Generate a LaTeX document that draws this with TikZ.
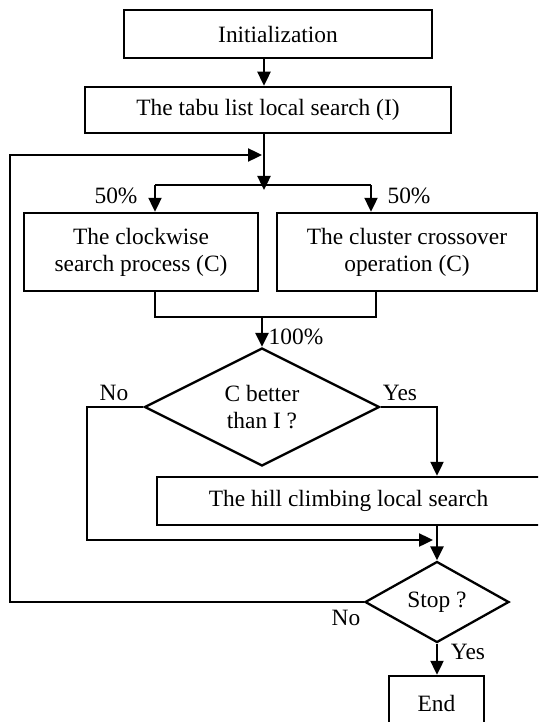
\documentclass[tikz,border=0pt]{standalone}
\usepackage{fontspec}
\setmainfont{Liberation Serif}
\usetikzlibrary{arrows.meta,shapes.geometric,positioning}

\begin{document}
\begin{tikzpicture}[x=1pt,y=-1pt, line join=miter, >={Triangle[length=14pt,width=13pt]},
	font=\fontsize{23.4}{27}\selectfont]
	\tikzset{box/.style={draw,line width=2.5pt,inner sep=0pt,align=center},
		decide/.style={draw,diamond,line width=2.3pt,inner sep=0pt,align=center},
		flow/.style={line width=2.4pt},
		lbl/.style={inner sep=0pt}}
	\useasboundingbox (0,0) rectangle (538,722);
	\clip (0,0) rectangle (538,722);
	% process boxes
	\node[box,minimum width=308pt,minimum height=48pt] (init) at (278,34) {Initialization};
	\node[box,minimum width=366pt,minimum height=46pt] (tabu) at (268,110) {The tabu list local search (I)};
	\node[box,minimum width=234pt,minimum height=78pt] (clock) at (141,252) {The clockwise\\search process (C)};
	\node[box,minimum width=260pt,minimum height=78pt] (cluster) at (407,252) {The cluster crossover\\operation (C)};
	\node[decide,aspect=2,minimum width=235pt,minimum height=118pt] (better) at (262,407) {C better\\than I ?};
	\node[box,minimum width=383pt,minimum height=48pt] (hill) at (348.5,501) {The hill climbing local search};
	\node[decide,aspect=1.78,minimum width=144pt,minimum height=81pt] (stop) at (437,602) {Stop ?};
	\node[box,minimum width=95pt,minimum height=54pt] (end) at (436.5,703) {End};
	% helper columns
	\coordinate (spine) at (264,0);
	\coordinate (colL) at (155,0);
	\coordinate (colR) at (376,0);
	\coordinate (colY) at (437,0);
	\coordinate (fork) at (264,185);
	\coordinate (merge) at (264,317);
	\coordinate (back) at (10,155);
	\coordinate (noL) at (87,407);
	% labels
	\node[lbl] (pl) at (116,196) {50\%};
	\node[lbl] (pr) at (409,196) {50\%};
	\node[lbl] (pall) at (296,337) {100\%};
	\node[lbl] (no1) at (114,393) {No};
	\node[lbl] (yes1) at (400,393) {Yes};
	\node[lbl] (no2) at (346,618) {No};
	\node[lbl] (yes2) at (468,652) {Yes};
	% connectors
	\draw[flow,->] (init.south -| spine) -- (tabu.north -| spine);
	\draw[flow,->] (tabu.south -| spine) -- ([yshift=-5pt]fork);
	\draw[flow] (fork -| colL) -- (fork -| 371,0);
	\draw[flow,->] (fork -| colL) -- (clock.north -| colL);
	\draw[flow,->] (fork -| 371,0) -- (cluster.north -| 371,0);
	\draw[flow] (clock.south -| colL) -- (merge -| colL) -- (merge -| colR) -- (cluster.south -| colR);
	\draw[flow,->] (better.north |- merge) -- (better.north);
	\draw[flow,->] (better.east) -- (better.east -| colY) -- (hill.north -| colY);
	\draw[flow,->] (better.west) -- (noL) -- (noL |- 0,540) -- (433,540);
	\draw[flow,->] (hill.south -| colY) -- (stop.north);
	\draw[flow,->] (stop.south) -- (end.north -| stop.south);
	\draw[flow,->] (stop.west) -- (stop.west -| back) -- (back) -- (262,155);
\end{tikzpicture}
\end{document}
